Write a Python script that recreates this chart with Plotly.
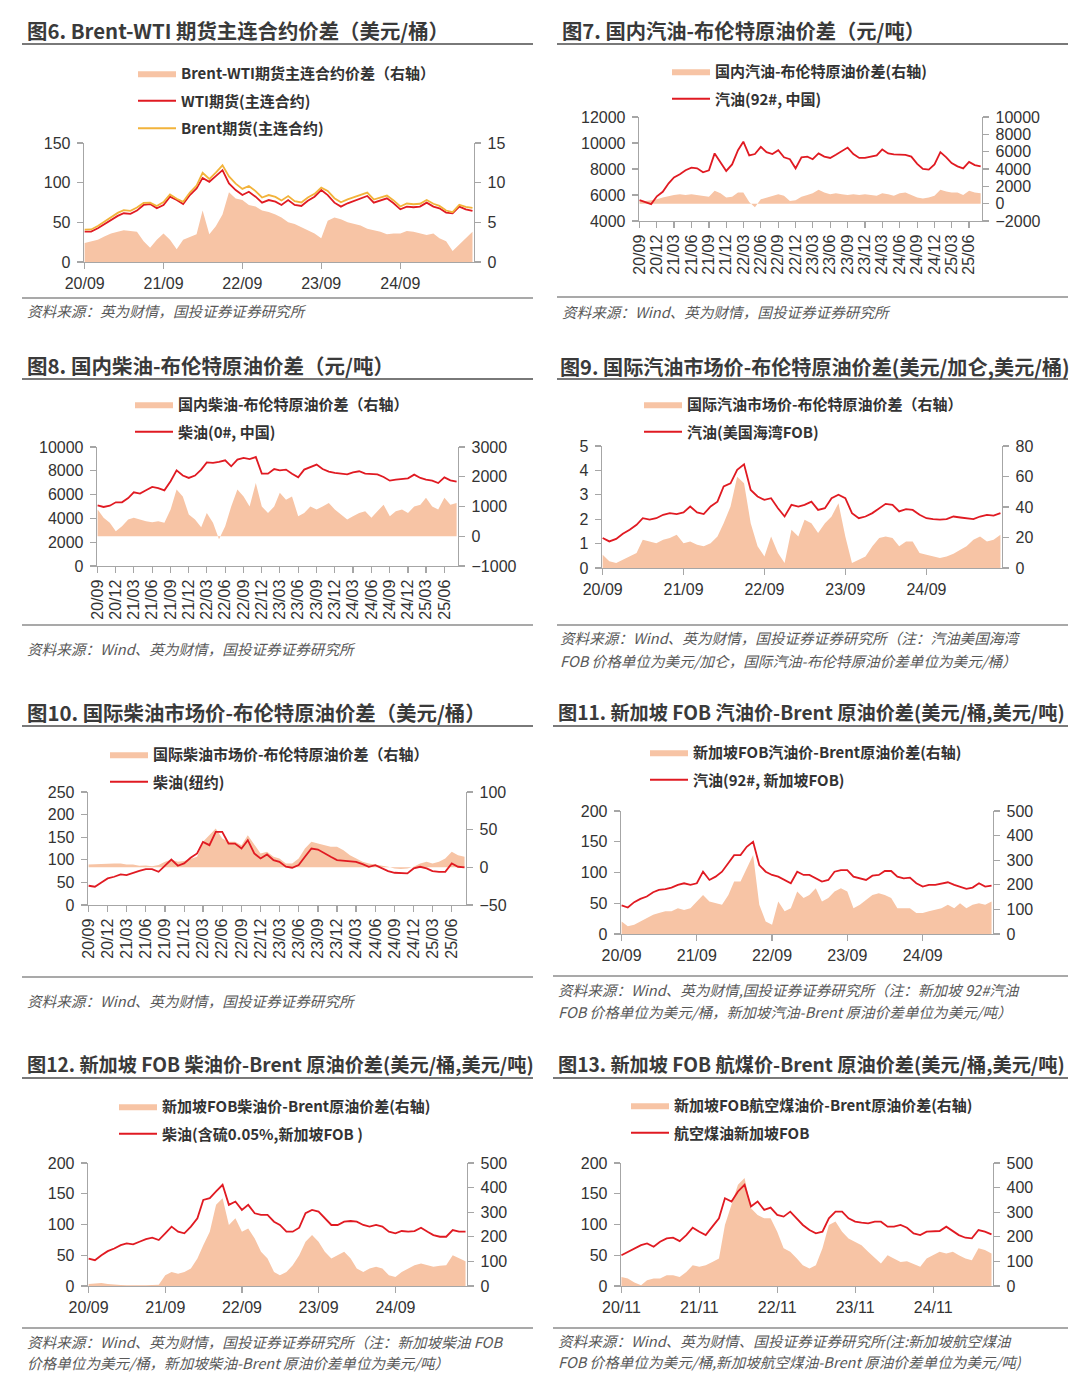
import plotly.graph_objects as go

W, H = 1080, 1374


def month_list(y, m, n):
    out = []
    for _ in range(n):
        out.append(f"{y:04d}-{m:02d}-01")
        m += 1
        if m == 13:
            m, y = 1, y + 1
    return out


DATES = month_list(2020, 9, 60)       # 2020-09 .. 2025-08
DATES_JET = month_list(2020, 11, 58)  # 2020-11 .. 2025-08

# ---------------- 图6 Brent-WTI ----------------
WTI = [38.4, 38.4, 42.6, 47.6,
       52.2, 58.1, 61.4, 60.6, 64.8, 71.9, 73.1, 67.7, 71.9, 82.3, 78.1, 73.1,
       84.4, 92.8, 106.0, 101.1, 108.2, 115.8, 99.0, 90.7, 84.4, 88.6, 82.3, 74.8,
       78.1, 76.0, 71.9, 78.1, 71.9, 70.6, 77.3, 82.3, 90.7, 84.4, 74.8, 69.8,
       74.0, 77.3, 80.2, 83.2, 74.8, 77.3, 80.2, 74.0, 66.4, 69.8, 69.0, 69.8,
       74.8, 69.8, 67.7, 62.3, 61.4, 69.8, 66.4, 64.4]
BRENT = [40.8, 41.0, 45.4, 50.8,
         55.8, 61.9, 65.4, 64.5, 68.6, 74.5, 74.9, 70.5, 75.5, 85.1, 79.7, 75.9,
         87.6, 96.3, 112.5, 104.6, 112.7, 121.8, 107.8, 98.7, 92.2, 95.8, 89.3, 81.3,
         84.4, 82.0, 77.5, 83.1, 76.7, 75.0, 81.3, 85.9, 93.7, 89.6, 80.4, 75.2,
         79.0, 82.1, 84.8, 87.4, 78.8, 81.1, 83.7, 77.6, 70.0, 73.7, 72.8, 73.4,
         78.2, 73.4, 70.7, 64.9, 62.8, 72.0, 69.4, 68.2]
BW_SPREAD = [2.4, 2.6, 2.8, 3.2,
             3.6, 3.8, 4.0, 3.9, 3.8, 2.6, 1.8, 2.8, 3.6, 2.8, 1.6, 2.8,
             3.2, 3.5, 6.5, 3.5, 4.5, 6.0, 8.8, 8.0, 7.8, 7.2, 7.0, 6.5,
             6.3, 6.0, 5.6, 5.0, 4.8, 4.4, 4.0, 3.6, 3.0, 5.2, 5.6, 5.4,
             5.0, 4.8, 4.6, 4.2, 4.0, 3.8, 3.5, 3.6, 3.6, 3.9, 3.8, 3.6,
             3.4, 3.6, 3.0, 2.6, 1.4, 2.2, 3.0, 3.8]

# ---------------- 图7 国内汽油 ----------------
CN_GASOLINE = [5600, 5450, 5300, 5900,
               6250, 6900, 7350, 7600, 7900, 8100, 8050, 7750, 7900, 9200, 8500, 7850,
               8350, 9450, 10100, 9050, 9150, 9700, 9300, 9150, 9450, 8900, 8750, 8050,
               8900, 8950, 8750, 9200, 8950, 8850, 9100, 9400, 9650, 9150, 8850, 8850,
               8950, 9050, 9500, 9200, 9120, 9120, 9080, 8950, 8400, 8000, 7950, 8350,
               9300, 8900, 8450, 8200, 8050, 8550, 8300, 8200]
CN_GASOLINE_SPREAD = [400, 300, 400, 500,
                      700, 900, 1000, 1100, 1000, 1100, 1000, 900, 800, 1500, 1200, 700,
                      800, 1300, 1300, 200, -400, 500, 700, 900, 1100, 900, 300, 400,
                      800, 1000, 1200, 1600, 1300, 1100, 1200, 1100, 1000, 1100, 1000, 1100,
                      1000, 900, 1200, 1100, 900, 1200, 1300, 1000, 700, 600, 700, 900,
                      1600, 1400, 1300, 1300, 1000, 1500, 1300, 1200]

# ---------------- 图8 国内柴油 ----------------
CN_DIESEL = [5100, 4960, 5070, 5350,
             5350, 5710, 6190, 6080, 6360, 6640, 6550, 6360, 7120, 8040, 7600, 7400,
             7600, 8100, 8710, 8660, 8740, 8880, 8380, 8940, 9080, 8990, 9160, 7760,
             7760, 8150, 8040, 8100, 7760, 7450, 8100, 8320, 8520, 8150, 7930, 7820,
             7730, 7700, 7870, 7960, 7760, 7760, 7700, 7480, 7170, 7250, 7310, 7370,
             7680, 7400, 7250, 7170, 6970, 7450, 7200, 7090]
CN_DIESEL_SPREAD = [900, 620, 450, 170,
                    340, 560, 620, 560, 500, 470, 500, 450, 900, 1570, 1340, 730,
                    560, 300, 780, 450, -100, 340, 1000, 1570, 1340, 1000, 1790, 1000,
                    780, 1000, 1460, 1230, 1340, 670, 780, 1000, 900, 1000, 1120, 900,
                    730, 560, 670, 780, 840, 620, 840, 1060, 670, 840, 900, 780,
                    1000, 1060, 1290, 1000, 900, 1290, 1060, 1120]

# ---------------- 图9 美国海湾汽油 ----------------
US_GASOLINE = [1.23, 1.09, 1.19, 1.40,
               1.57, 1.77, 2.04, 1.98, 2.04, 2.18, 2.25, 2.21, 2.28, 2.52, 2.28, 2.21,
               2.52, 2.72, 3.34, 3.47, 4.02, 4.25, 3.20, 2.93, 2.79, 2.86, 2.45, 2.11,
               2.59, 2.52, 2.59, 2.72, 2.38, 2.45, 2.86, 3.00, 2.86, 2.25, 2.04, 2.11,
               2.25, 2.45, 2.63, 2.59, 2.32, 2.41, 2.38, 2.18, 2.04, 2.00, 1.98, 2.00,
               2.11, 2.07, 2.04, 2.00, 2.11, 2.18, 2.15, 2.25]
US_GASOLINE_SPREAD = [8.7, 4.4, 3.3, 5.4,
                      7.6, 9.8, 18.5, 17.4, 16.3, 18.5, 19.6, 21.8, 16.3, 17.4, 15.2, 14.2,
                      16.3, 20.7, 29.4, 40.3, 59.9, 55.6, 29.4, 14.2, 7.6, 20.7, 9.8, 3.3,
                      25.1, 20.7, 31.6, 29.4, 22.9, 29.4, 33.8, 42.5, 20.7, 3.3, 5.4, 7.6,
                      14.2, 19.6, 20.7, 19.6, 14.2, 17.4, 17.4, 9.8, 8.7, 7.6, 6.5, 7.6,
                      9.4, 12.0, 14.2, 18.5, 20.7, 17.4, 18.5, 21.8]

# ---------------- 图10 纽约柴油 ----------------
NY_DIESEL = [42.6, 40.4, 50.0, 58.8,
             62.5, 67.6, 66.2, 71.3, 75.7, 79.4, 79.4, 73.5, 88.2, 100.7, 86.8, 91.9,
             104.4, 114.0, 139.7, 132.4, 161.8, 161.8, 136.0, 136.0, 125.0, 143.4, 114.0, 102.9,
             111.8, 99.3, 95.6, 84.6, 82.4, 88.2, 106.6, 125.0, 122.8, 114.0, 106.6, 99.3,
             97.8, 95.6, 95.6, 90.4, 84.6, 88.2, 82.4, 75.0, 71.3, 71.3, 69.9, 80.9,
             84.6, 80.9, 75.0, 73.5, 73.5, 91.9, 84.6, 83.1]
NY_DIESEL_SPREAD = [3.8, 4.3, 4.3, 4.7,
                    5.2, 5.2, 3.8, 3.8, 2.1, 2.5, 1.6, 3.0, 7.4, 10.4, 7.4, 8.3,
                    10.9, 14.0, 33.8, 42.6, 51.5, 38.3, 33.8, 33.8, 29.4, 42.6, 29.4, 18.4,
                    20.6, 14.0, 11.8, 5.2, 5.2, 11.8, 25.0, 33.8, 31.6, 29.4, 27.2, 27.2,
                    22.8, 16.2, 11.8, 7.4, 5.2, 3.8, 3.0, 0.8, -1.5, -2.3, -1.5, 0.8,
                    5.2, 7.4, 5.2, 7.4, 11.8, 20.6, 16.2, 14.0]

# ---------------- 图11 新加坡汽油 ----------------
SG_GASOLINE = [46.4, 43.1, 51.8, 57.1,
               60.9, 67.9, 71.7, 72.8, 75.5, 79.8, 82.5, 79.8, 82.5, 101.3, 87.9, 93.3,
               101.3, 114.8, 128.3, 128.3, 141.8, 149.9, 112.1, 101.3, 96.0, 93.3, 87.9, 82.5,
               101.3, 96.0, 96.0, 90.6, 85.2, 87.9, 101.3, 104.0, 104.0, 93.3, 90.6, 87.9,
               94.9, 96.0, 102.4, 102.4, 93.3, 90.6, 91.6, 82.5, 77.1, 79.8, 79.8, 82.5,
               84.1, 79.8, 77.1, 73.3, 75.5, 82.5, 77.1, 78.7]
SG_GASOLINE_SPREAD = [51, 31, 38, 51,
                      65, 78, 85, 92, 92, 105, 98, 105, 132, 159, 132, 125,
                      119, 159, 213, 213, 267, 321, 119, 51, 38, 132, 92, 105,
                      173, 146, 159, 186, 132, 146, 173, 186, 173, 105, 119, 139,
                      159, 166, 159, 146, 105, 105, 105, 85, 85, 92, 98, 105,
                      119, 105, 125, 105, 119, 125, 119, 132]

# ---------------- 图12 新加坡柴油 ----------------
SG_DIESEL = [44.7, 42.0, 50.1, 56.7,
             61.0, 66.5, 69.2, 67.6, 71.9, 76.3, 78.5, 74.7, 85.6, 96.5, 88.3, 85.6,
             96.5, 110.1, 140.0, 142.8, 153.7, 164.6, 131.9, 137.3, 123.7, 131.9, 118.3, 115.5,
             115.5, 104.6, 99.2, 88.3, 88.3, 94.8, 118.3, 123.7, 121.0, 110.1, 99.2, 99.2,
             104.6, 105.7, 104.6, 99.2, 96.5, 99.2, 96.5, 88.3, 85.6, 89.4, 88.3, 89.4,
             94.8, 88.3, 82.8, 80.1, 80.1, 91.0, 88.3, 88.3]
SG_DIESEL_SPREAD = [8, 10, 12, 8,
                    5, 4, 3, 2, 2, 3, 4, 5, 44, 57, 50, 57,
                    71, 112, 166, 221, 330, 357, 248, 275, 221, 234, 193, 139,
                    112, 57, 44, 57, 84, 125, 180, 207, 180, 139, 112, 125,
                    139, 112, 71, 57, 71, 78, 71, 44, 37, 57, 71, 84,
                    91, 84, 78, 82, 84, 125, 112, 101]

# ---------------- 图13 新加坡航煤 ----------------
SG_JET = [50.1, 55.6,
          59.9, 66.5, 69.2, 63.8, 71.9, 77.4, 78.5, 73.0, 82.8, 94.8, 88.3, 82.8,
          96.5, 110.1, 142.8, 137.3, 153.7, 164.6, 129.2, 137.3, 123.7, 127.5, 115.5, 112.8,
          121.0, 110.1, 99.2, 91.0, 85.6, 88.3, 110.1, 121.0, 121.0, 110.1, 104.6, 103.0,
          101.9, 104.6, 104.6, 96.5, 96.5, 99.2, 94.8, 85.6, 82.8, 88.3, 88.3, 89.4,
          96.5, 89.4, 82.8, 78.5, 77.4, 91.0, 88.3, 83.9]
SG_JET_SPREAD = [37, 30,
                 14, 3, 23, 30, 30, 44, 44, 37, 57, 84, 78, 84,
                 98, 112, 248, 330, 412, 439, 316, 289, 275, 275, 221, 153,
                 139, 112, 84, 71, 84, 153, 248, 262, 221, 193, 180, 166,
                 139, 112, 91, 125, 112, 98, 101, 91, 78, 112, 125, 139,
                 132, 139, 125, 112, 105, 153, 146, 132]

# ---------------- style ----------------
AREA = "#F7C4A5"
RED = "#E01A22"
ORANGE = "#F2B33B"
AXC = "#A6A6A6"
TXT = "#333333"
FONT_CN = "Noto Sans CJK SC"
FONT_NUM = "Liberation Sans, Arial, sans-serif"


def ax(p, n):
    return p if n == 1 else f"{p}{n}"


fig = go.Figure()
layout = dict(template="none", width=W, height=H,
              margin=dict(l=0, r=0, t=0, b=0, pad=0, autoexpand=False),
              paper_bgcolor="white", plot_bgcolor="rgba(0,0,0,0)", hovermode=False)
shapes, annotations = [], []


def hline(x0, x1, y, color, width):
    shapes.append(dict(type="line", xref="paper", yref="paper",
                       x0=x0 / W, x1=x1 / W, y0=1 - y / H, y1=1 - y / H,
                       line=dict(color=color, width=width)))


def text(x, y, s, size, color, style="normal", weight="normal"):
    annotations.append(dict(xref="paper", yref="paper", x=x / W, y=1 - y / H,
                            xanchor="left", yanchor="middle", showarrow=False, text=s,
                            font=dict(family=FONT_CN, size=size, color=color,
                                      style=style, weight=weight)))


def panel(i, cfg):
    x0, x1, yt, yb = cfg["box"]
    dates = cfg["dates"]
    leg = ax("legend", i)
    fig.add_trace(go.Scatter(x=dates, y=cfg["area"], name=cfg["area_name"], mode="lines",
                             line=dict(width=0, color=AREA), fill="tozeroy", fillcolor=AREA,
                             xaxis=ax("x", i), yaxis=ax("y", 2 * i - 1), legend=leg,
                             legendgroup=f"g{i}a"))
    for k, (name, vals, color) in enumerate(cfg["lines"]):
        fig.add_trace(go.Scatter(x=dates, y=vals, name=name, mode="lines",
                                 line=dict(width=1.8, color=color),
                                 xaxis=ax("x", i), yaxis=ax("y", 2 * i), legend=leg,
                                 legendgroup=f"g{i}l{k}"))
    rot = cfg.get("rot", 0)
    common = dict(showline=True, linecolor=AXC, linewidth=1.3, ticks="outside",
                  ticklen=6, tickcolor=AXC, tickwidth=1.2, showgrid=False, zeroline=False,
                  automargin=False)
    layout[ax("xaxis", i)] = dict(
        domain=[x0 / W, x1 / W], anchor=ax("y", 2 * i - 1), type="date",
        range=cfg["xrange"], tick0=cfg["tick0"], dtick=cfg["dtick"], tickformat="%y/%m",
        tickangle=rot, tickfont=dict(family=FONT_NUM, size=16, color=TXT),
        **common)
    yr = cfg["yr"]
    yl = cfg["yl"]
    ycommon = dict(exponentformat="none", separatethousands=False, ticklabelstandoff=3,
                   tickfont=dict(family=FONT_NUM, size=16, color=TXT), **common)
    layout[ax("yaxis", 2 * i - 1)] = dict(
        domain=[1 - yb / H, 1 - yt / H], anchor=ax("x", i), side="right",
        range=[yr[0], yr[1]], tick0=yr[0], dtick=yr[2], tickformat=yr[3], **ycommon)
    layout[ax("yaxis", 2 * i)] = dict(
        overlaying=ax("y", 2 * i - 1), anchor=ax("x", i), side="left",
        range=[yl[0], yl[1]], tick0=yl[0], dtick=yl[2], tickformat=yl[3], **ycommon)
    lx, ly = cfg["legend_xy"]
    layout[leg] = dict(x=lx / W, y=1 - ly / H, xanchor="left", yanchor="top",
                       bgcolor="rgba(0,0,0,0)", borderwidth=0, traceorder="grouped",
                       tracegroupgap=5, itemwidth=38,
                       font=dict(family=FONT_CN, size=15, color=TXT, weight="bold"))
    tx, ty = cfg["title_xy"]
    text(tx, ty, cfg["title"], cfg["title_size"], "#3A3A3A", weight="bold")
    lx0, lx1 = cfg["rule_x"]
    hline(lx0, lx1, cfg["rule_top"], "#4D4D4D", 1.5)
    hline(lx0, lx1, cfg["rule_bottom"], "#8C8C8C", 1.5)
    for s, sy in zip(cfg["source"], cfg["source_y"]):
        text(tx, sy, s, 14.6, "#595959", style="italic")


RANGE_A = ["2020-08-29", "2025-08-08"]
RANGE_B = ["2020-10-30", "2025-08-08"]

panels = [
    dict(box=(84, 474, 143, 262), dates=DATES, area=BW_SPREAD,
         area_name="Brent-WTI期货主连合约价差（右轴）",
         lines=[("WTI期货(主连合约)", WTI, RED), ("Brent期货(主连合约)", BRENT, ORANGE)],
         xrange=RANGE_A, tick0="2020-09-01", dtick="M12",
         yl=(0, 150, 50, "d"), yr=(0, 15, 5, "d"), legend_xy=(133, 57),
         title="图6. Brent-WTI 期货主连合约价差（美元/桶）", title_xy=(25, 30), title_size=20.4,
         rule_x=(22, 533), rule_top=44, rule_bottom=298,
         source=["资料来源：英为财情，国投证券证券研究所"], source_y=[311]),
    dict(box=(639, 982, 117, 221), dates=DATES, area=CN_GASOLINE_SPREAD,
         area_name="国内汽油-布伦特原油价差(右轴)",
         lines=[("汽油(92#, 中国)", CN_GASOLINE, RED)],
         xrange=RANGE_A, tick0="2020-09-01", dtick="M3", rot=-90,
         yl=(4000, 12000, 2000, "d"), yr=(-2000, 10000, 2000, "d"), legend_xy=(667, 55),
         title="图7. 国内汽油-布伦特原油价差（元/吨）", title_xy=(560, 30), title_size=20.3,
         rule_x=(557, 1068), rule_top=44, rule_bottom=297,
         source=["资料来源：Wind、英为财情，国投证券证券研究所"], source_y=[312]),
    dict(box=(97, 458, 447, 566), dates=DATES, area=CN_DIESEL_SPREAD,
         area_name="国内柴油-布伦特原油价差（右轴）",
         lines=[("柴油(0#, 中国)", CN_DIESEL, RED)],
         xrange=RANGE_A, tick0="2020-09-01", dtick="M3", rot=-90,
         yl=(0, 10000, 2000, "d"), yr=(-1000, 3000, 1000, "d"), legend_xy=(130, 388),
         title="图8. 国内柴油-布伦特原油价差（元/吨）", title_xy=(25, 365), title_size=20.5,
         rule_x=(22, 533), rule_top=379, rule_bottom=625,
         source=["资料来源：Wind、英为财情，国投证券证券研究所"], source_y=[648]),
    dict(box=(602, 1002, 446, 568), dates=DATES, area=US_GASOLINE_SPREAD,
         area_name="国际汽油市场价-布伦特原油价差（右轴）",
         lines=[("汽油(美国海湾FOB)", US_GASOLINE, RED)],
         xrange=RANGE_A, tick0="2020-09-01", dtick="M12",
         yl=(0, 5, 1, "d"), yr=(0, 80, 20, "d"), legend_xy=(639, 388),
         title="图9. 国际汽油市场价-布伦特原油价差(美元/加仑,美元/桶)", title_xy=(558, 366),
         title_size=20.1,
         rule_x=(557, 1068), rule_top=379, rule_bottom=625,
         source=["资料来源：Wind、英为财情，国投证券证券研究所（注：汽油美国海湾",
                 "FOB 价格单位为美元/加仑，国际汽油-布伦特原油价差单位为美元/桶）"],
         source_y=[637, 660]),
    dict(box=(88, 466, 792, 905), dates=DATES, area=NY_DIESEL_SPREAD,
         area_name="国际柴油市场价-布伦特原油价差（右轴）",
         lines=[("柴油(纽约)", NY_DIESEL, RED)],
         xrange=RANGE_A, tick0="2020-09-01", dtick="M3", rot=-90,
         yl=(0, 250, 50, "d"), yr=(-50, 100, 50, "d"), legend_xy=(105, 738),
         title="图10. 国际柴油市场价-布伦特原油价差（美元/桶）", title_xy=(25, 712),
         title_size=20.4,
         rule_x=(22, 533), rule_top=726, rule_bottom=977,
         source=["资料来源：Wind、英为财情，国投证券证券研究所"], source_y=[1000]),
    dict(box=(621, 993, 811, 934), dates=DATES, area=SG_GASOLINE_SPREAD,
         area_name="新加坡FOB汽油价-Brent原油价差(右轴)",
         lines=[("汽油(92#, 新加坡FOB)", SG_GASOLINE, RED)],
         xrange=RANGE_A, tick0="2020-09-01", dtick="M12",
         yl=(0, 200, 50, "d"), yr=(0, 500, 100, "d"), legend_xy=(645, 736),
         title="图11. 新加坡 FOB 汽油价-Brent 原油价差(美元/桶,美元/吨)", title_xy=(556, 712),
         title_size=19.2,
         rule_x=(553, 1068), rule_top=726, rule_bottom=976,
         source=["资料来源：Wind、英为财情,国投证券证券研究所（注：新加坡 92#汽油",
                 "FOB 价格单位为美元/桶，新加坡汽油-Brent 原油价差单位为美元/吨）"],
         source_y=[989, 1011]),
    dict(box=(88, 467, 1163, 1286), dates=DATES, area=SG_DIESEL_SPREAD,
         area_name="新加坡FOB柴油价-Brent原油价差(右轴)",
         lines=[("柴油(含硫0.05%,新加坡FOB )", SG_DIESEL, RED)],
         xrange=RANGE_A, tick0="2020-09-01", dtick="M12",
         yl=(0, 200, 50, "d"), yr=(0, 500, 100, "d"), legend_xy=(114, 1090),
         title="图12. 新加坡 FOB 柴油价-Brent 原油价差(美元/桶,美元/吨)", title_xy=(25, 1064),
         title_size=19.2,
         rule_x=(22, 533), rule_top=1078, rule_bottom=1328,
         source=["资料来源：Wind、英为财情，国投证券证券研究所（注：新加坡柴油 FOB",
                 "价格单位为美元/桶，新加坡柴油-Brent 原油价差单位为美元/吨）"],
         source_y=[1341, 1362]),
    dict(box=(621, 993, 1163, 1286), dates=DATES_JET, area=SG_JET_SPREAD,
         area_name="新加坡FOB航空煤油价-Brent原油价差(右轴)",
         lines=[("航空煤油新加坡FOB", SG_JET, RED)],
         xrange=RANGE_B, tick0="2020-11-01", dtick="M12",
         yl=(0, 200, 50, "d"), yr=(0, 500, 100, "d"), legend_xy=(626, 1089),
         title="图13. 新加坡 FOB 航煤价-Brent 原油价差(美元/桶,美元/吨)", title_xy=(556, 1064),
         title_size=19.2,
         rule_x=(553, 1068), rule_top=1078, rule_bottom=1328,
         source=["资料来源：Wind、英为财情、国投证券证券研究所(注:新加坡航空煤油",
                 "FOB 价格单位为美元/桶,新加坡航空煤油-Brent 原油价差单位为美元/吨)"],
         source_y=[1340, 1361]),
]

for i, cfg in enumerate(panels, start=1):
    panel(i, cfg)

layout["shapes"] = shapes
layout["annotations"] = annotations
fig.update_layout(**layout)
fig.write_html("out.html", config={"displayModeBar": False, "staticPlot": True},
               post_script="document.body.style.margin='0px';document.body.style.padding='0px';")
